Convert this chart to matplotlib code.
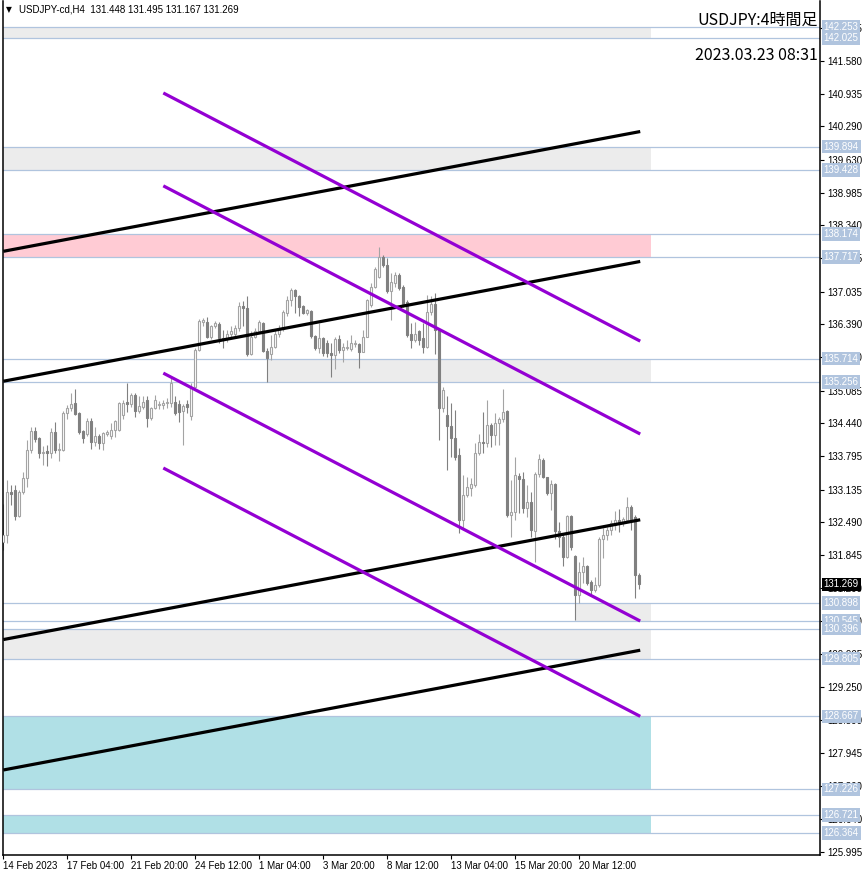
import matplotlib
matplotlib.use("Agg")
import matplotlib.pyplot as plt
from matplotlib.patches import Rectangle

plt.rcParams['font.family'] = ['Liberation Sans', 'DejaVu Sans']

# ---------------- data ----------------
opens = [132.10, 132.25, 133.08, 133.13, 132.62, 133.09, 133.36, 133.91, 134.29, 134.15,
         133.86, 133.89, 133.86, 134.27, 133.91, 133.92, 134.64, 134.74, 134.84, 134.64,
         134.28, 134.24, 134.49, 134.08, 134.19, 134.06, 134.24, 134.20, 134.31, 134.30,
         134.60, 134.87, 134.83, 135.00, 134.69, 134.76, 134.90, 134.54, 134.74, 134.80,
         134.80, 134.84, 134.84, 134.87, 134.82, 134.68, 134.83, 134.59, 135.16, 135.89,
         136.44, 136.44, 136.15, 136.35, 136.40, 136.12, 136.12, 136.21, 136.20, 136.31,
         136.75, 136.71, 135.81, 136.14, 136.26, 136.42, 135.87, 135.80, 135.95, 136.21,
         136.29, 136.62, 136.87, 137.07, 136.94, 136.76, 136.62, 136.65, 136.16, 135.92,
         136.12, 136.02, 135.82, 135.79, 136.10, 135.89, 135.92, 135.90, 136.00, 136.01,
         135.85, 136.15, 136.78, 137.13, 137.32, 137.72, 137.56, 137.04, 137.20, 137.36,
         137.13, 136.84, 136.21, 136.08, 136.25, 136.13, 135.95, 136.64, 136.80, 136.28,
         134.74, 134.60, 134.38, 134.15, 133.82, 132.54, 133.03, 133.16, 133.22, 133.85,
         134.08, 134.05, 134.41, 134.21, 134.44, 134.52, 134.69, 132.63, 132.70, 133.40,
         133.34, 132.77, 132.90, 132.31, 133.44, 133.72, 133.38, 133.06, 133.24, 132.31,
         132.21, 131.81, 132.61, 131.83, 131.06, 131.52, 131.62, 131.32, 131.16, 131.26,
         132.17, 132.24, 132.34, 132.44, 132.54, 132.47, 132.54, 132.80, 132.60, 131.448]
highs = [132.86, 133.32, 133.22, 133.22, 133.13, 133.48, 134.12, 134.36, 134.36, 134.18,
         133.99, 134.01, 134.35, 134.47, 134.06, 134.68, 134.81, 135.04, 135.12, 134.66,
         134.31, 134.55, 134.54, 134.36, 134.24, 134.27, 134.31, 134.45, 134.51, 134.87,
         134.90, 135.24, 135.04, 135.04, 134.97, 134.97, 134.97, 134.77, 135.00, 134.89,
         134.90, 134.93, 135.33, 134.97, 134.90, 134.83, 134.90, 135.23, 135.92, 136.50,
         136.51, 136.54, 136.38, 136.46, 136.44, 136.28, 136.28, 136.35, 136.38, 136.84,
         136.86, 136.94, 136.25, 136.31, 136.48, 136.44, 135.92, 136.18, 136.28, 136.38,
         136.67, 136.95, 137.10, 137.09, 136.97, 136.77, 136.70, 136.67, 136.18, 136.41,
         136.14, 136.08, 136.03, 136.15, 136.18, 136.02, 136.08, 136.18, 136.08, 136.02,
         136.28, 136.90, 137.20, 137.53, 137.92, 137.76, 137.69, 137.40, 137.43, 137.40,
         137.17, 136.87, 136.41, 136.44, 136.28, 136.41, 136.97, 136.94, 137.00, 136.30,
         135.16, 134.97, 134.84, 134.70, 133.95, 133.42, 133.39, 133.36, 134.05, 134.24,
         134.67, 134.90, 134.44, 134.64, 134.57, 135.11, 134.70, 133.32, 133.78, 133.46,
         133.49, 133.22, 133.09, 133.49, 133.84, 133.75, 133.39, 133.32, 133.26, 132.50,
         132.27, 132.63, 132.63, 131.85, 131.71, 131.81, 131.65, 131.35, 131.42, 132.21,
         132.37, 132.40, 132.54, 132.71, 132.76, 132.60, 132.99, 132.83, 132.63, 131.495]
lows = [131.95, 132.09, 132.84, 132.53, 132.60, 133.05, 133.19, 133.85, 134.08, 133.76,
        133.62, 133.59, 133.76, 133.85, 133.69, 133.89, 134.52, 134.69, 134.61, 134.24,
        134.06, 134.20, 133.94, 133.99, 133.93, 133.91, 134.19, 134.14, 134.18, 134.29,
        134.53, 134.67, 134.77, 134.56, 134.65, 134.72, 134.36, 134.51, 134.72, 134.72,
        134.72, 134.74, 134.77, 134.60, 134.47, 134.01, 134.64, 134.51, 135.13, 135.87,
        136.36, 136.12, 136.10, 136.31, 136.02, 135.92, 136.05, 136.12, 136.16, 136.25,
        136.35, 135.76, 135.79, 136.12, 136.23, 135.85, 135.26, 135.69, 135.92, 136.14,
        136.25, 136.55, 136.75, 136.62, 136.55, 136.60, 136.58, 136.13, 135.89, 135.82,
        135.76, 135.75, 135.36, 135.52, 135.82, 135.64, 135.88, 135.87, 135.95, 135.54,
        135.84, 136.14, 136.74, 137.10, 137.30, 137.53, 137.00, 136.48, 137.13, 137.07,
        136.74, 136.15, 135.92, 136.05, 135.98, 135.82, 135.92, 136.58, 135.80, 134.11,
        134.67, 133.52, 133.78, 133.72, 132.27, 132.37, 132.99, 133.00, 133.19, 133.82,
        133.85, 133.98, 133.98, 134.01, 134.01, 134.47, 132.60, 132.21, 132.54, 132.67,
        132.67, 132.60, 132.21, 131.71, 133.39, 133.36, 133.03, 132.73, 132.17, 132.01,
        131.62, 131.78, 131.94, 130.57, 130.90, 131.29, 131.26, 131.03, 131.12, 131.22,
        131.78, 132.14, 132.24, 132.34, 132.30, 132.41, 132.50, 132.34, 130.99, 131.167]
closes = [132.25, 133.08, 133.05, 132.62, 133.08, 133.36, 133.91, 134.29, 134.14, 133.86,
          133.88, 133.86, 134.27, 133.91, 133.93, 134.65, 134.74, 134.83, 134.63, 134.26,
          134.16, 134.49, 134.08, 134.19, 134.06, 134.25, 134.27, 134.31, 134.49, 134.85,
          134.85, 134.83, 135.00, 134.69, 134.79, 134.87, 134.54, 134.74, 134.90, 134.82,
          134.85, 134.87, 135.24, 134.64, 134.67, 134.78, 134.77, 135.16, 135.89, 136.46,
          136.48, 136.15, 136.35, 136.41, 136.12, 136.09, 136.21, 136.25, 136.31, 136.75,
          136.71, 135.81, 136.14, 136.26, 136.44, 135.87, 135.72, 135.95, 136.21, 136.29,
          136.64, 136.87, 137.07, 136.94, 136.74, 136.62, 136.67, 136.16, 135.92, 136.12,
          135.82, 135.82, 135.79, 136.11, 135.89, 135.94, 135.95, 136.02, 136.03, 135.85,
          136.15, 136.87, 137.13, 137.49, 137.72, 137.56, 137.04, 137.23, 137.36, 137.10,
          136.80, 136.18, 136.08, 136.21, 136.08, 135.95, 136.64, 136.80, 136.28, 134.74,
          135.10, 134.38, 134.15, 133.78, 132.54, 133.03, 133.19, 133.24, 133.85, 134.08,
          134.05, 134.41, 134.21, 134.44, 134.52, 134.67, 132.63, 132.70, 133.42, 133.34,
          132.77, 132.90, 132.34, 133.44, 133.73, 133.39, 133.06, 133.24, 132.31, 132.21,
          131.81, 132.61, 132.01, 131.06, 131.52, 131.62, 131.29, 131.16, 131.26, 132.17,
          132.24, 132.34, 132.47, 132.54, 132.46, 132.55, 132.80, 132.54, 131.45, 131.269]

x_tick_bars = [0, 16, 32, 48, 64, 80, 96, 112, 128, 144]
x_tick_labels = ['14 Feb 2023', '17 Feb 04:00', '21 Feb 20:00', '24 Feb 12:00', '1 Mar 04:00',
                 '3 Mar 20:00', '8 Mar 12:00', '13 Mar 04:00', '15 Mar 20:00', '20 Mar 12:00']
y_ticks = [142.225, 141.580, 140.935, 140.290, 139.630, 138.985, 138.340, 137.695, 137.035,
           136.390, 135.740, 135.085, 134.440, 133.795, 133.135, 132.490, 131.845, 131.200,
           130.550, 129.905, 129.250, 128.590, 127.945, 127.300, 126.640, 125.995]

levels = [142.253, 142.025, 139.894, 139.428, 138.174, 137.717, 135.714, 135.256,
          130.898, 130.545, 130.396, 129.805, 128.667, 127.226, 126.721, 126.364]

# zones: (low, high, start bar, end bar, colour)
zone_low = [142.025, 139.428, 137.717, 135.256, 130.545, 129.805, 127.226, 126.364]
zone_high = [142.253, 139.894, 138.174, 135.714, 130.898, 130.396, 128.667, 126.721]
zone_start = [-1, -1, -1, 66, 143, -1, -1, -1]
zone_end = [161.9] * 8
zone_color = ['#ECECEC', '#ECECEC', '#FFCBD4', '#ECECEC', '#ECECEC', '#ECECEC', '#B0E0E6', '#B0E0E6']

black_x0 = [0, 0, 0, 0]
black_y0 = [137.83, 135.27, 130.18, 127.61]
black_x1 = [159.25] * 4
black_y1 = [140.19, 137.63, 132.54, 129.97]

purple_x0 = [40, 40, 40, 40]
purple_y0 = [140.95, 139.12, 135.43, 133.56]
purple_x1 = [159.25] * 4
purple_y1 = [136.06, 134.23, 130.545, 128.667]

current_price = 131.269

# ---------------- figure ----------------
W, H = 866, 876
fig = plt.figure(figsize=(W / 100, H / 100), dpi=100)
ax = fig.add_axes([3 / W, (H - 855) / H, (820 - 3) / W, (855 - 1) / H])
ax.set_xlim(-0.08, 204.2)
ax.set_ylim(125.935, 142.762)

for lo, hi, s, e, c in zip(zone_low, zone_high, zone_start, zone_end, zone_color):
    ax.add_patch(Rectangle((s, lo), e - s, hi - lo, facecolor=c, edgecolor='none', zorder=1))

for lv in levels:
    ax.axhline(lv, color='#B0C4DE', lw=0.9, zorder=1.5)

bull_c = '#A4A4A4'
bear_c = '#808080'
for i, (o, h, l, c) in enumerate(zip(opens, highs, lows, closes)):
    col = bull_c if c >= o else bear_c
    ax.vlines(i, l, h, color=col, lw=0.8, zorder=2)
    lo_b, hi_b = min(o, c), max(o, c)
    if hi_b - lo_b < 0.005:
        hi_b = lo_b + 0.005
    ax.add_patch(Rectangle((i - 0.27, lo_b), 0.54, hi_b - lo_b,
                           facecolor='white' if c >= o else bear_c,
                           edgecolor=col, lw=0.8, zorder=3))

for x0, y0, x1, y1 in zip(black_x0, black_y0, black_x1, black_y1):
    ax.plot([x0, x1], [y0, y1], color='black', lw=2.3, solid_capstyle='butt', zorder=5)
for x0, y0, x1, y1 in zip(purple_x0, purple_y0, purple_x1, purple_y1):
    ax.plot([x0, x1], [y0, y1], color='#9400D3', lw=2.3, solid_capstyle='butt', zorder=5)

# axes styling
for side in ['top']:
    ax.spines[side].set_visible(False)
for side in ['left', 'bottom', 'right']:
    ax.spines[side].set_linewidth(1.1)
    ax.spines[side].set_color('black')

ax.yaxis.tick_right()
ax.set_yticks(y_ticks)
ax.set_yticklabels(['%.3f' % v for v in y_ticks])
ax.tick_params(axis='y', direction='out', length=3, width=0.8, pad=2.5, labelsize=7,
               right=True, left=False, labelright=True, labelleft=False)
ax.set_xticks(x_tick_bars)
ax.set_xticklabels(x_tick_labels)
ax.tick_params(axis='x', direction='out', length=3, width=0.8, pad=1.5, labelsize=7)
for lbl in ax.get_xticklabels():
    lbl.set_horizontalalignment('left')

# level labels on price axis
ytr = ax.get_yaxis_transform()
for lv in levels:
    ax.text(1.0045, lv, '%.3f' % lv, transform=ytr, ha='left', va='center', fontsize=7,
            color='white', zorder=10, clip_on=False,
            bbox=dict(boxstyle='square,pad=0.18', fc='#B0C4DE', ec='none'))
ax.text(1.0045, current_price, '%.3f' % current_price, transform=ytr, ha='left', va='center',
        fontsize=7, color='white', zorder=11, clip_on=False,
        bbox=dict(boxstyle='square,pad=0.18', fc='black', ec='none'))

# header texts
fig.text(6 / W, 1 - 10 / H, '\u25BC', fontsize=5.5, family=['DejaVu Sans'], va='center', ha='left')
fig.text(19 / W, 1 - 10 / H, 'USDJPY-cd,H4  131.448 131.495 131.167 131.269', fontsize=7,
         va='center', ha='left')
fig.text(818 / W, 1 - 20 / H, 'USDJPY:4時間足', fontsize=11.5,
         family=['Noto Sans CJK JP', 'DejaVu Sans'], ha='right', va='center')
fig.text(818 / W, 1 - 55 / H, '2023.03.23 08:31', fontsize=11.5,
         family=['Noto Sans CJK JP', 'DejaVu Sans'], ha='right', va='center')

fig.savefig('out.png', dpi=100)
